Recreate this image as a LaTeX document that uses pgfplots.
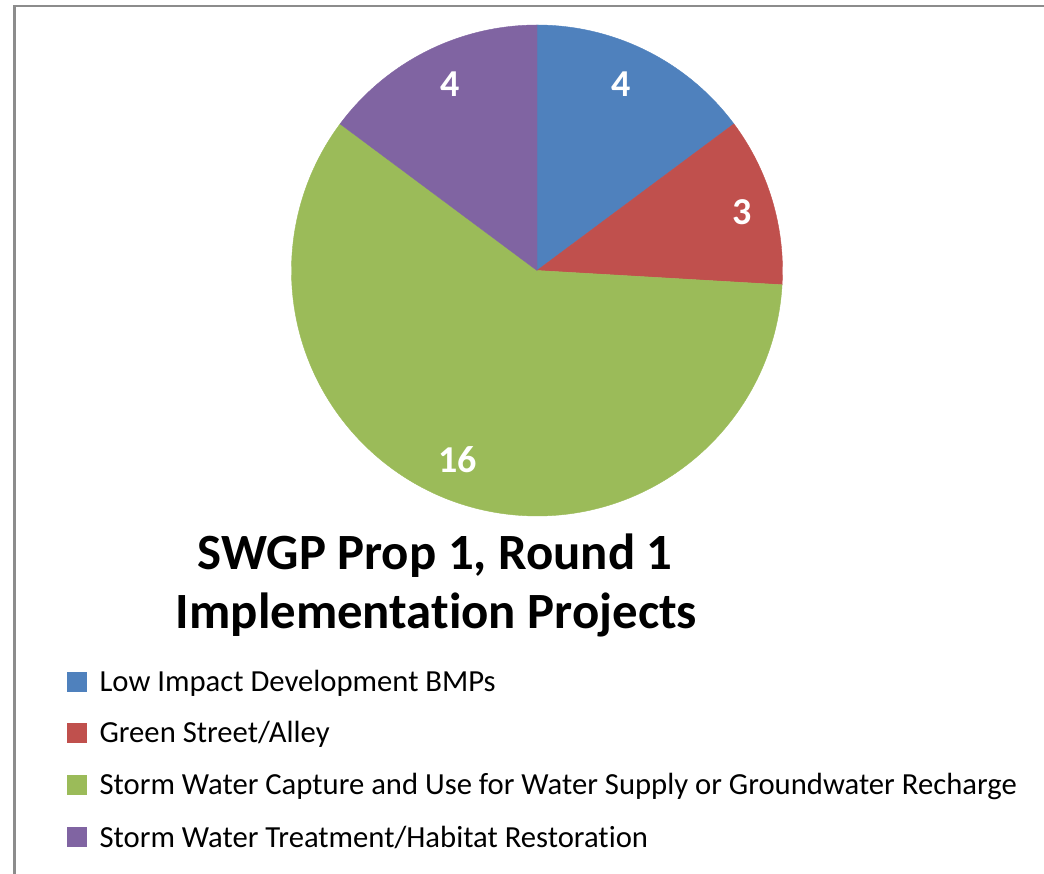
\documentclass[border=0pt]{standalone}
\usepackage{pgfplots}
\pgfplotsset{compat=1.18}
\usepackage{pgfplotstable}
\usepgfplotslibrary{polar}
\usepackage{fontspec}
\setmainfont[Ligatures={NoCommon}]{Carlito}
\definecolor{lidblue}{HTML}{4F81BD}
\definecolor{gsred}{HTML}{C0504D}
\definecolor{swgreen}{HTML}{9BBB59}
\definecolor{stpurple}{HTML}{8064A2}
\definecolor{framegray}{HTML}{8C8C8C}

% Number of projects per category
\pgfplotstableread{
value
4
3
16
4
}\pietable

\begin{document}
\begin{tikzpicture}
\begin{scope}[x=0.75pt,y=0.75pt]
\useasboundingbox (0,0) rectangle (1044,873);
\coordinate (C) at (537,602.5);
\draw[framegray, line width=2pt] (14.75,-5) -- (14.75,867) -- (1050,867);
\end{scope}
\pgfplotstablegetelem{0}{value}\of\pietable \let\va\pgfplotsretval
\pgfplotstablegetelem{1}{value}\of\pietable \let\vb\pgfplotsretval
\pgfplotstablegetelem{2}{value}\of\pietable \let\vc\pgfplotsretval
\pgfplotstablegetelem{3}{value}\of\pietable \let\vd\pgfplotsretval
\pgfmathsetmacro{\tot}{\va+\vb+\vc+\vd}
\pgfmathsetmacro{\aA}{90}
\pgfmathsetmacro{\aB}{90-360*\va/\tot}
\pgfmathsetmacro{\aC}{\aB-360*\vb/\tot}
\pgfmathsetmacro{\aD}{\aC-360*\vc/\tot}
\pgfmathsetmacro{\aE}{\aD-360*\vd/\tot}

\begin{polaraxis}[hide axis, scale only axis, width=368.25pt, height=368.25pt,
  ymin=0, ymax=1, at={(C)}, anchor=center, clip=false]
\edef\tmp{\noexpand\addplot[draw=lidblue, line width=0.3pt, fill=lidblue] coordinates {(0,0) (\aA,1)} arc[start angle=\aA, end angle=\aB, radius=184.125pt] -- cycle;}\tmp
\edef\tmp{\noexpand\addplot[draw=gsred, line width=0.3pt, fill=gsred] coordinates {(0,0) (\aB,1)} arc[start angle=\aB, end angle=\aC, radius=184.125pt] -- cycle;}\tmp
\edef\tmp{\noexpand\addplot[draw=swgreen, line width=0.3pt, fill=swgreen] coordinates {(0,0) (\aC,1)} arc[start angle=\aC, end angle=\aD, radius=184.125pt] -- cycle;}\tmp
\edef\tmp{\noexpand\addplot[draw=stpurple, line width=0.3pt, fill=stpurple] coordinates {(0,0) (\aD,1)} arc[start angle=\aD, end angle=\aE, radius=184.125pt] -- cycle;}\tmp
\addplot[only marks, mark size=0pt, point meta=explicit symbolic, nodes near coords,
  nodes near coords style={anchor=center, inner sep=0pt, text=white, font=\bfseries\fontsize{28.5}{32}\selectfont}]
  coordinates {(65.6,0.834) [4] (15.9,0.868) [3] (247.2,0.837) [16] (115.0,0.838) [4]};
\end{polaraxis}

\begin{scope}[x=0.75pt,y=0.75pt]
\node[anchor=base, inner sep=0pt, font=\bfseries\fontsize{38.1}{45}\selectfont] at (435,303) {SWGP Prop 1, Round 1};
\node[anchor=base, inner sep=0pt, font=\bfseries\fontsize{38.1}{45}\selectfont] at (436.5,244) {Implementation Projects};

\fill[lidblue] (67.3,181.3) rectangle (87.3,201.3);
\node[anchor=base west, inner sep=0pt, font=\fontsize{23}{28}\selectfont] at (99.3,181.3) {Low Impact Development BMPs};
\fill[gsred] (67.3,130) rectangle (87.3,150);
\node[anchor=base west, inner sep=0pt, font=\fontsize{23}{28}\selectfont] at (99.3,130) {Green Street/Alley};
\fill[swgreen] (67.3,78) rectangle (87.3,98);
\node[anchor=base west, inner sep=0pt, font=\fontsize{23}{28}\selectfont] at (99.3,78) {Storm Water Capture and Use for Water Supply or Groundwater Recharge};
\fill[stpurple] (67.3,26) rectangle (87.3,46);
\node[anchor=base west, inner sep=0pt, font=\fontsize{23}{28}\selectfont] at (99.3,26) {Storm Water Treatment/Habitat Restoration};
\end{scope}
\end{tikzpicture}
\end{document}
